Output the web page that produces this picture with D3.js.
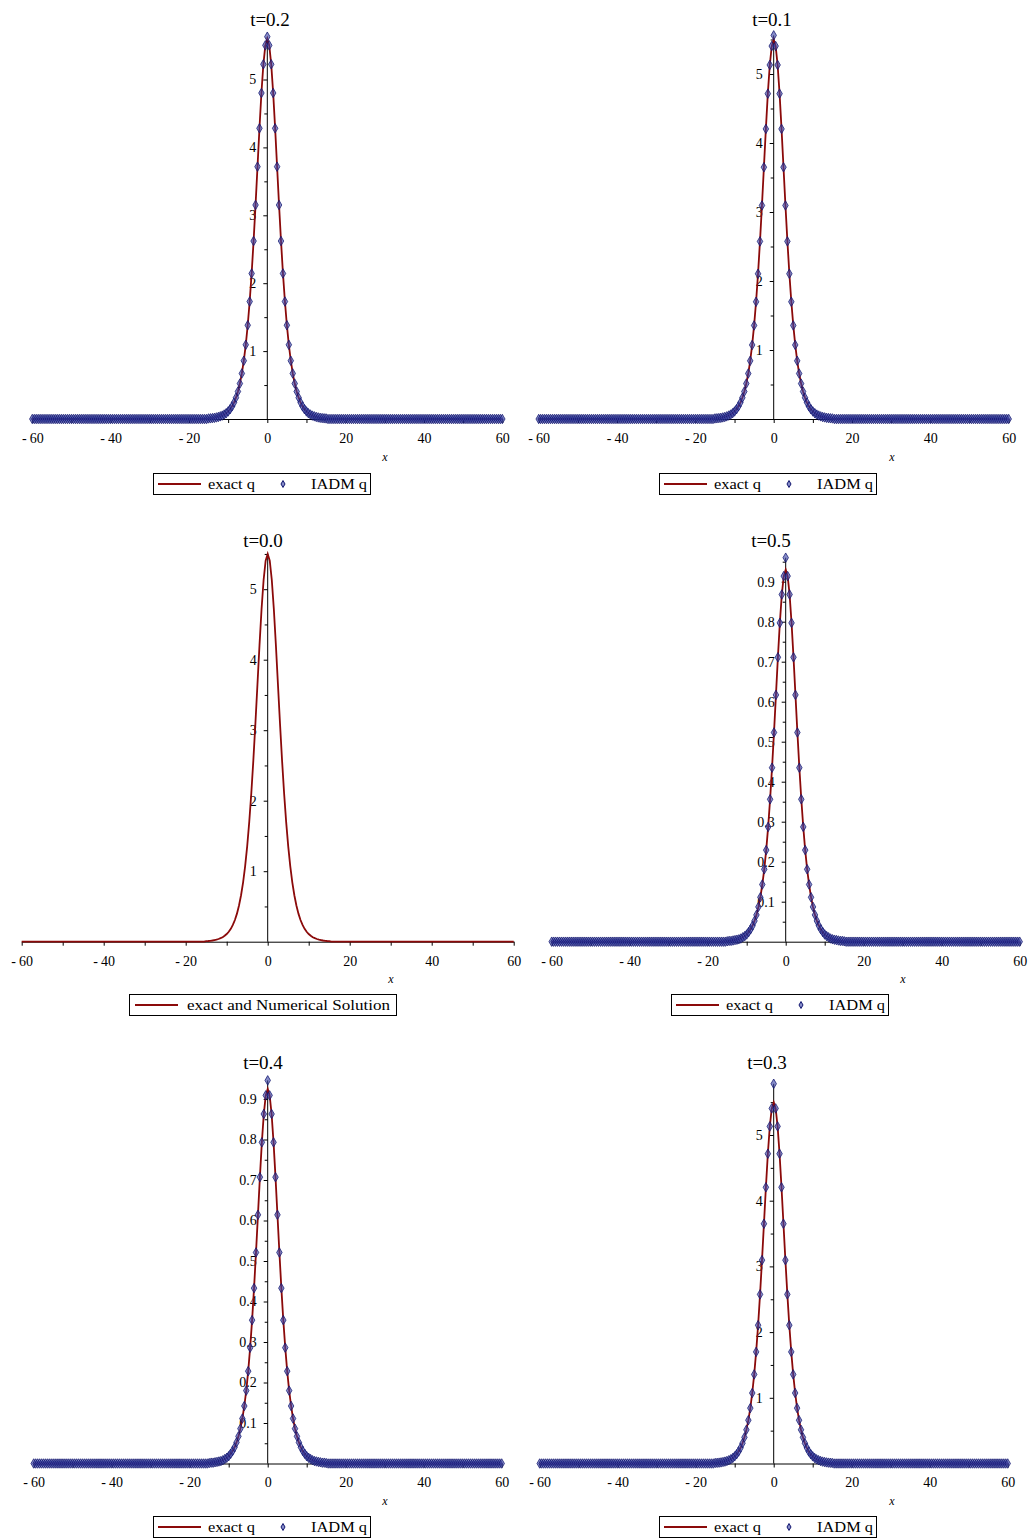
<!DOCTYPE html>
<html><head><meta charset="utf-8">
<script src="https://cdn.jsdelivr.net/npm/d3@7"></script>
<style>
body{margin:0;background:#fff}
svg{display:block}
text{font-family:"Liberation Serif","Times New Roman",serif;fill:#000}
</style>
</head><body>
<svg id="c" width="1034" height="1539"></svg>
<script>
// ---------- data ----------
const titles = ["t=0.2", "t=0.1", "t=0.0", "t=0.5", "t=0.4", "t=0.3"];
const xTickLabels = [-60, -40, -20, 0, 20, 40, 60];
const xTickMinor = [-50, -30, -10, 10, 30, 50];
const yTicksLarge = [1, 2, 3, 4, 5];
const yTicksLargeMinor = [0.5, 1.5, 2.5, 3.5, 4.5, 5.5];
const yTicksSmall = [0.1, 0.2, 0.3, 0.4, 0.5, 0.6, 0.7, 0.8, 0.9];
const yTicksSmallMinor = [0.05, 0.15, 0.25, 0.35, 0.45, 0.55, 0.65, 0.75, 0.85, 0.95];

// sample positions near the peak
const xCore = [-15,-14.5,-14,-13.5,-13,-12.5,-12,-11.5,-11,-10.5,-10,-9.5,-9,-8.5,-8,-7.5,-7,-6.5,-6,-5.5,-5,-4.5,-4,-3.5,-3,-2.5,-2,-1.5,-1,-0.5,0,0.5,1,1.5,2,2.5,3,3.5,4,4.5,5,5.5,6,6.5,7,7.5,8,8.5,9,9.5,10,10.5,11,11.5,12,12.5,13,13.5,14,14.5,15];
// sample positions in the flat tails (q is 0 there)
const xTail = [-60,-59.5,-59,-58.5,-58,-57.5,-57,-56.5,-56,-55.5,-55,-54.5,-54,-53.5,-53,-52.5,-52,-51.5,-51,-50.5,-50,-49.5,-49,-48.5,-48,-47.5,-47,-46.5,-46,-45.5,-45,-44.5,-44,-43.5,-43,-42.5,-42,-41.5,-41,-40.5,-40,-39.5,-39,-38.5,-38,-37.5,-37,-36.5,-36,-35.5,-35,-34.5,-34,-33.5,-33,-32.5,-32,-31.5,-31,-30.5,-30,-29.5,-29,-28.5,-28,-27.5,-27,-26.5,-26,-25.5,-25,-24.5,-24,-23.5,-23,-22.5,-22,-21.5,-21,-20.5,-20,-19.5,-19,-18.5,-18,-17.5,-17,-16.5,-16,-15.5,
  15.5,16,16.5,17,17.5,18,18.5,19,19.5,20,20.5,21,21.5,22,22.5,23,23.5,24,24.5,25,25.5,26,26.5,27,27.5,28,28.5,29,29.5,30,30.5,31,31.5,32,32.5,33,33.5,34,34.5,35,35.5,36,36.5,37,37.5,38,38.5,39,39.5,40,40.5,41,41.5,42,42.5,43,43.5,44,44.5,45,45.5,46,46.5,47,47.5,48,48.5,49,49.5,50,50.5,51,51.5,52,52.5,53,53.5,54,54.5,55,55.5,56,56.5,57,57.5,58,58.5,59,59.5,60];
const qTailValue = 0;

// exact q on xCore, one array per panel
const q_t02 = [0.008,0.010,0.013,0.017,0.023,0.030,0.039,0.050,0.066,0.085,0.111,0.144,0.186,0.242,0.314,0.405,0.522,0.671,0.858,1.093,1.381,1.730,2.143,2.621,3.152,3.716,4.281,4.801,5.224,5.503,5.6,5.503,5.224,4.801,4.281,3.716,3.152,2.621,2.143,1.730,1.381,1.093,0.858,0.671,0.522,0.405,0.314,0.242,0.186,0.144,0.111,0.085,0.066,0.050,0.039,0.030,0.023,0.017,0.013,0.010,0.008];
const q_t01 = [0.008,0.010,0.013,0.017,0.023,0.029,0.038,0.050,0.064,0.084,0.109,0.141,0.183,0.238,0.308,0.398,0.513,0.659,0.843,1.073,1.356,1.699,2.105,2.574,3.095,3.649,4.204,4.715,5.131,5.405,5.5,5.405,5.131,4.715,4.204,3.649,3.095,2.574,2.105,1.699,1.356,1.073,0.843,0.659,0.513,0.398,0.308,0.238,0.183,0.141,0.109,0.084,0.064,0.050,0.038,0.029,0.023,0.017,0.013,0.010,0.008];
const q_t00 = [0.008,0.010,0.013,0.017,0.023,0.029,0.038,0.050,0.064,0.084,0.109,0.141,0.183,0.238,0.308,0.398,0.513,0.659,0.843,1.073,1.356,1.699,2.105,2.574,3.095,3.649,4.204,4.715,5.131,5.405,5.5,5.405,5.131,4.715,4.204,3.649,3.095,2.574,2.105,1.699,1.356,1.073,0.843,0.659,0.513,0.398,0.308,0.238,0.183,0.141,0.109,0.084,0.064,0.050,0.038,0.029,0.023,0.017,0.013,0.010,0.008];
const q_t05 = [0.001,0.002,0.002,0.003,0.004,0.005,0.006,0.008,0.011,0.014,0.018,0.024,0.031,0.040,0.052,0.067,0.087,0.111,0.143,0.181,0.229,0.287,0.356,0.435,0.523,0.617,0.711,0.797,0.868,0.914,0.93,0.914,0.868,0.797,0.711,0.617,0.523,0.435,0.356,0.287,0.229,0.181,0.143,0.111,0.087,0.067,0.052,0.040,0.031,0.024,0.018,0.014,0.011,0.008,0.006,0.005,0.004,0.003,0.002,0.002,0.001];
const q_t04 = [0.001,0.002,0.002,0.003,0.004,0.005,0.006,0.008,0.011,0.014,0.018,0.024,0.031,0.040,0.052,0.067,0.086,0.111,0.142,0.180,0.228,0.286,0.354,0.433,0.521,0.614,0.707,0.793,0.863,0.909,0.925,0.909,0.863,0.793,0.707,0.614,0.521,0.433,0.354,0.286,0.228,0.180,0.142,0.111,0.086,0.067,0.052,0.040,0.031,0.024,0.018,0.014,0.011,0.008,0.006,0.005,0.004,0.003,0.002,0.002,0.001];
const q_t03 = [0.008,0.010,0.013,0.017,0.023,0.029,0.038,0.050,0.064,0.084,0.109,0.141,0.183,0.238,0.308,0.398,0.513,0.659,0.843,1.073,1.356,1.699,2.105,2.574,3.095,3.649,4.204,4.715,5.131,5.405,5.5,5.405,5.131,4.715,4.204,3.649,3.095,2.574,2.105,1.699,1.356,1.073,0.843,0.659,0.513,0.398,0.308,0.238,0.183,0.141,0.109,0.084,0.064,0.050,0.038,0.029,0.023,0.017,0.013,0.010,0.008];
// IADM q at x = 0 (the other IADM points sit on the exact curve)
const iadmCenter = [5.63, 5.56, null, 0.96, 0.946, 5.78];
const legendLabels = ["exact q", "IADM q", "exact and Numerical Solution"];

// ---------- layout (pixels) ----------
const layout = [
  {x0:32.3,  x1:502.3,  base:419,   ppu:67.9, small:false, title:[270,19],  xl:[385,457],  lg:[153,473],  q:q_t02, iadm:true},
  {x0:538.7, x1:1008.7, base:419,   ppu:69,   small:false, title:[772,19],  xl:[892,457],  lg:[659,473],  q:q_t01, iadm:true},
  {x0:21.7,  x1:513.7,  base:941.7, ppu:70.5, small:false, title:[263,540], xl:[391,979],  lg:[129,994],  q:q_t00, iadm:false},
  {x0:551.7, x1:1019.7, base:941.7, ppu:400,  small:true,  title:[771,540], xl:[903,979],  lg:[671,994],  q:q_t05, iadm:true},
  {x0:33.7,  x1:501.7,  base:1463.5,ppu:405,  small:true,  title:[263,1062],xl:[385,1501], lg:[153,1516], q:q_t04, iadm:true},
  {x0:539.7, x1:1007.7, base:1463.5,ppu:65.7, small:false, title:[767,1062],xl:[892,1501], lg:[659,1516], q:q_t03, iadm:true}
];

const RED = "#8b0a0a";
const NAVY = "#10146e";
const MFILL = "rgba(55,65,165,0.6)";
const svg = d3.select("#c");
const diamond = d3.symbol().type(d3.symbolDiamond).size(26);

layout.forEach((L, i) => {
  const g = svg.append("g");
  const x = d3.scaleLinear().domain([-60, 60]).range([L.x0, L.x1]);
  const y = d3.scaleLinear().domain([0, 1]).range([L.base, L.base - L.ppu]);
  const exactPts = xCore.map((xv, k) => [xv, L.q[k]]);
  const tailPts = xTail.map(xv => [xv, qTailValue]);
  const allPts = exactPts.concat(tailPts).sort((a, b) => a[0] - b[0]);
  const top = Math.max(d3.max(L.q), iadmCenter[i] || 0);

  // x axis
  const xa = d3.axisBottom(x)
    .tickValues(xTickLabels.concat(xTickMinor))
    .tickSize(4).tickSizeOuter(0).tickPadding(10)
    .tickFormat(d => xTickLabels.includes(d) ? String(d) : "");
  const gx = g.append("g").attr("transform", `translate(0,${y(0)})`).call(xa);
  gx.select(".domain").attr("stroke", "#000");
  gx.selectAll(".tick line").attr("stroke", "#000");
  gx.selectAll("text").attr("font-size", 14).attr("font-family", "Liberation Serif, serif")
    .each(function(d) {
      const t = d3.select(this);
      if (d < 0 && xTickLabels.includes(d)) {
        t.text("");
        t.append("tspan").text("-");
        t.append("tspan").attr("dx", 3).text(String(-d));
      }
    });

  // y axis
  const maj = L.small ? yTicksSmall : yTicksLarge;
  const minr = (L.small ? yTicksSmallMinor : yTicksLargeMinor).filter(v => v <= top);
  const ya = d3.axisLeft(y).tickValues(maj.concat(minr)).tickSizeOuter(0)
    .tickSize(0).tickPadding(11)
    .tickFormat(d => maj.includes(d) ? String(d) : "");
  const gy = g.append("g").attr("transform", `translate(${x(0)},0)`).call(ya);
  gy.select(".domain").remove();
  gy.selectAll(".tick line").attr("stroke", "#000").attr("x2", d => maj.includes(d) ? -4 : -3);
  gy.selectAll("text").attr("font-size", 14).attr("font-family", "Liberation Serif, serif");
  g.append("line").attr("x1", x(0)).attr("x2", x(0)).attr("y1", y(0)).attr("y2", y(top))
    .attr("stroke", "#000").attr("stroke-width", 1);

  // exact curve
  g.append("path").datum(allPts)
    .attr("d", d3.line().x(d => x(d[0])).y(d => y(d[1])))
    .attr("fill", "none").attr("stroke", RED).attr("stroke-width", 1.8);

  // IADM markers
  if (L.iadm) {
    const mk = allPts.map(p => p[0] === 0 ? [0, iadmCenter[i]] : p);
    g.append("g").selectAll("path").data(mk).join("path")
      .attr("d", diamond)
      .attr("transform", d => `translate(${x(d[0])},${y(d[1])})`)
      .attr("fill", MFILL)
      .attr("stroke", NAVY).attr("stroke-opacity", 0.75).attr("stroke-width", 1);
  }

  // title
  g.append("text").attr("x", L.title[0]).attr("y", L.title[1]).attr("text-anchor", "middle")
    .attr("dominant-baseline", "central").attr("font-size", 19).text(titles[i]);
  // x label
  g.append("text").attr("x", L.xl[0]).attr("y", L.xl[1]).attr("text-anchor", "middle")
    .attr("dominant-baseline", "central").attr("font-size", 12).attr("font-style", "italic").text("x");

  // legend
  const lx = L.lg[0], ly = L.lg[1];
  const lg = g.append("g");
  if (L.iadm) {
    lg.append("rect").attr("x", lx + 0.5).attr("y", ly + 0.5).attr("width", 217).attr("height", 21)
      .attr("fill", "#fff").attr("stroke", "#000").attr("stroke-width", 1);
    lg.append("line").attr("x1", lx + 5).attr("x2", lx + 48).attr("y1", ly + 11).attr("y2", ly + 11)
      .attr("stroke", RED).attr("stroke-width", 2);
    lg.append("text").attr("x", lx + 55).attr("y", ly + 16).attr("font-size", 15)
      .attr("textLength", 47).attr("lengthAdjust", "spacingAndGlyphs").text(legendLabels[0]);
    lg.append("path").attr("d", d3.symbol().type(d3.symbolDiamond).size(14))
      .attr("transform", `translate(${lx + 130},${ly + 11})`)
      .attr("fill", MFILL).attr("stroke", NAVY).attr("stroke-width", 1);
    lg.append("text").attr("x", lx + 158).attr("y", ly + 16).attr("font-size", 15)
      .attr("textLength", 56).attr("lengthAdjust", "spacingAndGlyphs").text(legendLabels[1]);
  } else {
    lg.append("rect").attr("x", lx + 0.5).attr("y", ly + 0.5).attr("width", 267).attr("height", 21)
      .attr("fill", "#fff").attr("stroke", "#000").attr("stroke-width", 1);
    lg.append("line").attr("x1", lx + 6).attr("x2", lx + 49).attr("y1", ly + 11).attr("y2", ly + 11)
      .attr("stroke", RED).attr("stroke-width", 2);
    lg.append("text").attr("x", lx + 58).attr("y", ly + 16).attr("font-size", 15)
      .attr("textLength", 203).attr("lengthAdjust", "spacingAndGlyphs").text(legendLabels[2]);
  }
});
</script>
</body></html>
